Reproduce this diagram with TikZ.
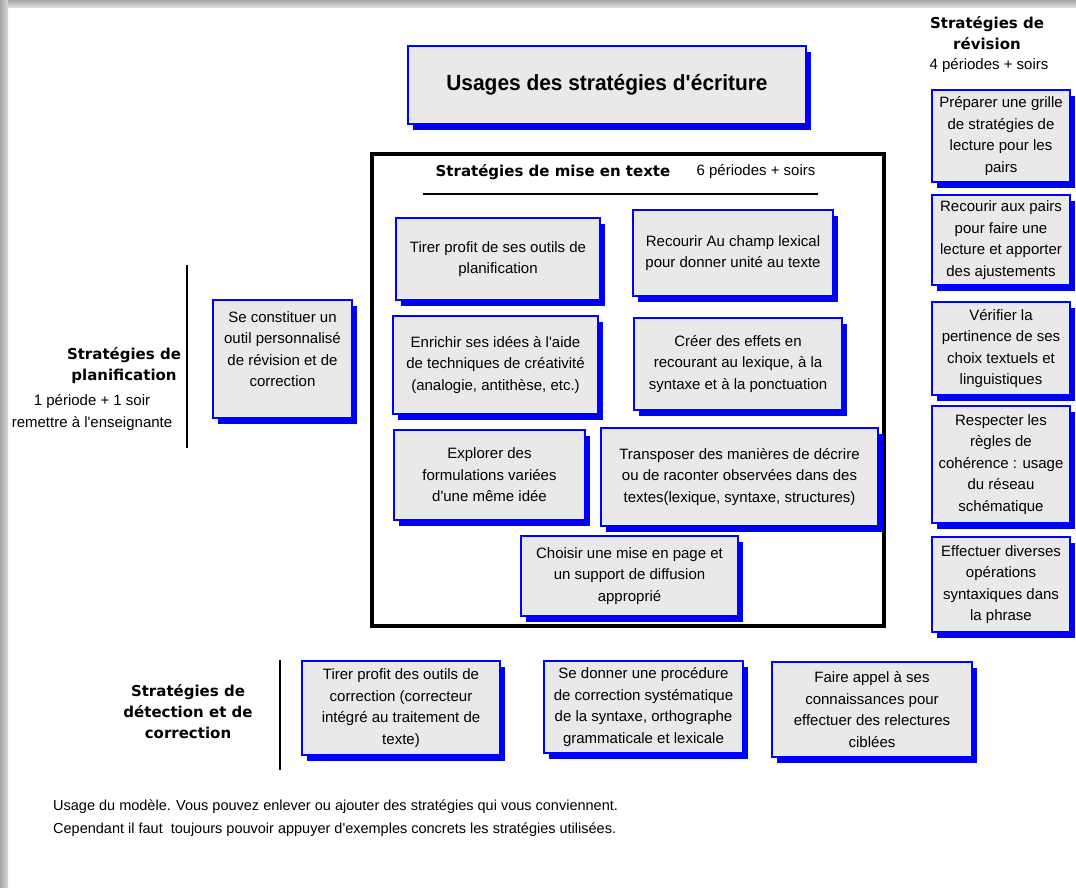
\documentclass[tikz,border=0pt]{standalone}
\usepackage{fontspec}
\setmainfont{Liberation Sans}
\newfontfamily\headfont{DejaVu Sans}
\newfontfamily\titlefont[FakeStretch=0.95]{Liberation Sans}
\usetikzlibrary{shadows}
\definecolor{boxgray}{RGB}{233,233,236}
\newcommand\apos{\textquotesingle}

\tikzset{
  strat/.style={draw=blue, line width=1.4pt, fill=boxgray, align=center, inner sep=3pt,
    font=\fontsize{15}{21.5}\selectfont,
    drop shadow={shadow xshift=5pt, shadow yshift=-6pt, fill=blue, opacity=1}},
  heading/.style={align=center, inner sep=0pt, font=\headfont\bfseries\fontsize{15}{21}\selectfont},
  note/.style={align=center, inner sep=0pt, font=\fontsize{15}{22}\selectfont},
}

\begin{document}
\begin{tikzpicture}[x=1pt, y=-1pt]
\useasboundingbox (0,0) rectangle (1076,888);
\fill[white] (0,0) rectangle (1076,888);
\shade[left color=gray!70, right color=gray!30] (0,0) rectangle (8,888);
\shade[top color=gray!70, bottom color=gray!20] (8,0) rectangle (1076,8);

% titre
\node[strat, minimum width=398pt, minimum height=78pt, font=\titlefont\bfseries\fontsize{22}{26}\selectfont]
  (titre) at (607,85) {Usages des stratégies d\apos écriture};

% mise en texte
\node[draw, line width=3.5pt, minimum width=512pt, minimum height=472pt] (cadre) at (628,390) {};
\node[heading] (mise) at (553,172) {Stratégies de mise en texte};
\node[note] (misetemps) at (756,172) {6 périodes + soirs};
\coordinate (ligneA) at (423,194);
\coordinate (ligneB) at (818,194);
\draw[line width=2.5pt] (ligneA) -- (ligneB);

\node[strat, minimum width=204pt, minimum height=82pt] (outils) at (498,259)
  {Tirer profit de ses outils de\\planification};
\node[strat, minimum width=200pt, minimum height=86pt] (champ) at (733,253)
  {Recourir Au champ lexical\\pour donner unité au texte};
\node[strat, minimum width=205pt, minimum height=98pt] (enrichir) at (495.5,365)
  {Enrichir ses idées à l\apos aide\\de techniques de créativité\\(analogie, antithèse, etc.)};
\node[strat, minimum width=208pt, minimum height=92pt] (effets) at (738,364)
  {Créer des effets en\\recourant au lexique, à la\\syntaxe et à la ponctuation};
\node[strat, minimum width=191pt, minimum height=90pt] (explorer) at (489.5,475)
  {Explorer des\\formulations variées\\d\apos une même idée};
\node[strat, minimum width=277pt, minimum height=98pt] (transposer) at (739.5,477)
  {Transposer des manières de décrire\\ou de raconter observées dans des\\textes(lexique, syntaxe, structures)};
\node[strat, minimum width=217pt, minimum height=80pt] (miseenpage) at (629.5,576)
  {Choisir une mise en page et\\un support de diffusion\\approprié};

% planification
\node[heading] (plan) at (124,366) {Stratégies de\\planification};
\node[note] (plantemps) at (92,413) {1 période + 1 soir\\remettre à l\apos enseignante};
\coordinate (planA) at (187,265);
\coordinate (planB) at (187,448);
\draw[line width=2.5pt] (planA) -- (planB);
\node[strat, minimum width=139pt, minimum height=118pt, text depth=20pt] (grilleperso) at (282.5,359)
  {Se constituer un\\outil personnalisé\\de révision et de\\correction};

% révision
\node[heading] (rev) at (987,33) {Stratégies de\\révision};
\node[note] (revtemps) at (989,66) {4 périodes + soirs};
\node[strat, minimum width=138pt, minimum height=92pt] (grille) at (1001,136)
  {Préparer une grille\\de stratégies de\\lecture pour les\\pairs};
\node[strat, minimum width=138pt, minimum height=90pt] (pairs) at (1001,240)
  {Recourir aux pairs\\pour faire une\\lecture et apporter\\des ajustements};
\node[strat, minimum width=138pt, minimum height=93pt] (verifier) at (1001,348.5)
  {Vérifier la\\pertinence de ses\\choix textuels et\\linguistiques};
\node[strat, minimum width=138pt, minimum height=117pt] (coherence) at (1001,464.5)
  {Respecter les\\règles de\\cohérence : usage\\du réseau\\schématique};
\node[strat, minimum width=138pt, minimum height=95pt] (operations) at (1001,584.5)
  {Effectuer diverses\\opérations\\syntaxiques dans\\la phrase};

% détection et correction
\node[heading] (detect) at (188,712) {Stratégies de\\détection et de\\correction};
\coordinate (detA) at (280,660);
\coordinate (detB) at (280,770);
\draw[line width=2.5pt] (detA) -- (detB);
\node[strat, minimum width=198pt, minimum height=94pt] (correcteur) at (401,708)
  {Tirer profit des outils de\\correction (correcteur\\intégré au traitement de\\texte)};
\node[strat, minimum width=199pt, minimum height=92pt] (procedure) at (643.5,707)
  {Se donner une procédure\\de correction systématique\\de la syntaxe, orthographe\\grammaticale et lexicale};
\node[strat, minimum width=200pt, minimum height=95pt] (relectures) at (872,709.5)
  {Faire appel à ses\\connaissances pour\\effectuer des relectures\\ciblées};

\node[note, align=left, anchor=west, font=\fontsize{14.5}{23}\selectfont] (usage) at (53,818)
  {Usage du modèle. Vous pouvez enlever ou ajouter des stratégies qui vous conviennent.\\
   Cependant il faut \ toujours pouvoir appuyer d\apos exemples concrets les stratégies utilisées.};

\end{tikzpicture}
\end{document}
